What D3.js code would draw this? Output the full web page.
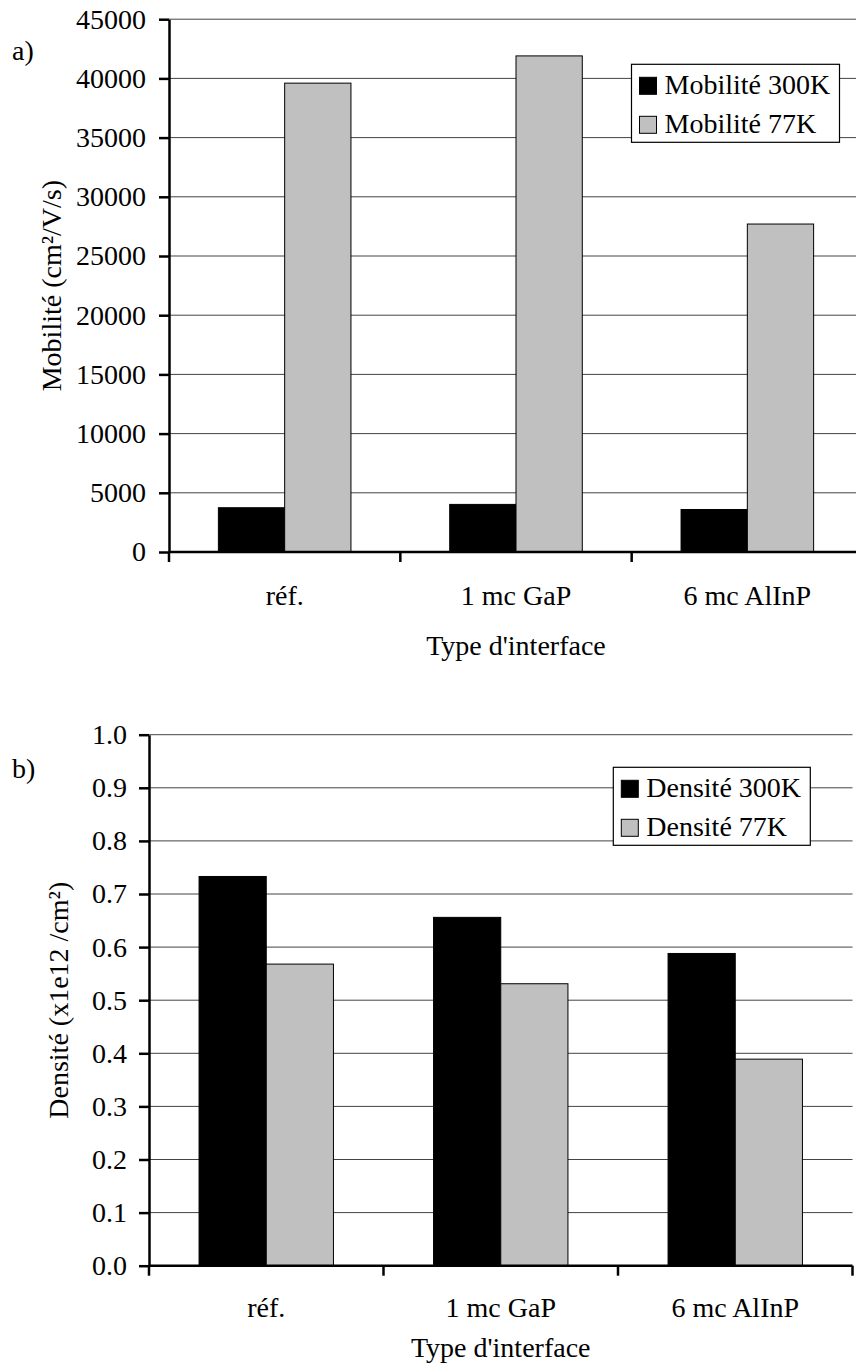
<!DOCTYPE html>
<html>
<head>
<meta charset="utf-8">
<script src="https://cdn.jsdelivr.net/npm/d3@7"></script>
<style>
  body { margin: 0; background: #fff; }
  svg text { font-family: "Liberation Serif", "Times New Roman", Times, "DejaVu Serif", serif; }
</style>
</head>
<body>
<div id="chart"></div>
<script>
// categories shared by both panels
var categories = ["réf.", "1 mc GaP", "6 mc AlInP"];

// panel a) mobility (cm²/V/s)
var mobiliteSeries = ["Mobilité 300K", "Mobilité 77K"];
var mobilite300K = [3740, 4020, 3590];
var mobilite77K = [39600, 41900, 27700];
var mobiliteTicks = [0, 5000, 10000, 15000, 20000, 25000, 30000, 35000, 40000, 45000];

// panel b) sheet density (x1e12 /cm²)
var densiteSeries = ["Densité 300K", "Densité 77K"];
var densite300K = [0.733, 0.656, 0.588];
var densite77K = [0.568, 0.531, 0.389];
var densiteTicks = [0, 0.1, 0.2, 0.3, 0.4, 0.5, 0.6, 0.7, 0.8, 0.9, 1.0];

var colors = ["#000000", "#c0c0c0"];
var W = 856, H = 1372;
var fontSize = 28;

var svg = d3.select("#chart").append("svg")
  .attr("width", W)
  .attr("height", H);

svg.append("rect").attr("width", W).attr("height", H).attr("fill", "#fff");

function drawPanel(o) {
  var g = svg.append("g");
  var max = o.ticks[o.ticks.length - 1];

  var y = d3.scaleLinear().domain([0, max]).range([o.bottom, o.top]);
  var x0 = d3.scaleBand().domain(categories).range([o.left, o.right]).padding(0);
  var x1 = d3.scaleBand().domain(o.series).range([0, x0.bandwidth()])
    .paddingInner(0).paddingOuter(0.745);

  // gridlines
  g.selectAll(".grid")
    .data(o.ticks.slice(1))
    .join("line")
    .attr("x1", o.left).attr("x2", o.right)
    .attr("y1", function (d) { return y(d); })
    .attr("y2", function (d) { return y(d); })
    .attr("stroke", "#444")
    .attr("stroke-width", 1);

  // bars
  var rows = categories.map(function (c, i) {
    return { cat: c, vals: [o.values[0][i], o.values[1][i]] };
  });
  g.selectAll(".grp")
    .data(rows)
    .join("g")
    .attr("transform", function (d) { return "translate(" + x0(d.cat) + ",0)"; })
    .selectAll("rect")
    .data(function (d) {
      return d.vals.map(function (v, j) { return { s: o.series[j], v: v, j: j }; });
    })
    .join("rect")
    .attr("x", function (d) { return x1(d.s); })
    .attr("width", x1.bandwidth())
    .attr("y", function (d) { return y(d.v); })
    .attr("height", function (d) { return o.bottom - y(d.v); })
    .attr("fill", function (d) { return colors[d.j]; })
    .attr("stroke", "#000")
    .attr("stroke-width", 1);

  // y axis
  var yAxis = g.append("g")
    .attr("transform", "translate(" + o.left + ",0)")
    .call(d3.axisLeft(y).tickValues(o.ticks).tickFormat(o.fmt)
      .tickSize(10).tickSizeOuter(0).tickPadding(o.tickPad));
  yAxis.attr("font-family", null);
  yAxis.select(".domain").attr("stroke", "#000").attr("stroke-width", 2.5);
  yAxis.selectAll(".tick line").attr("stroke", "#000").attr("stroke-width", 2.5);
  yAxis.selectAll(".tick text").attr("font-size", fontSize).attr("fill", "#000");

  // x axis line
  g.append("line")
    .attr("x1", o.left).attr("x2", o.right)
    .attr("y1", o.bottom).attr("y2", o.bottom)
    .attr("stroke", "#000").attr("stroke-width", 2.5);

  // boundary ticks between categories
  var bounds = categories.map(function (c) { return x0(c); }).concat([o.right]);
  g.selectAll(".xtick")
    .data(bounds)
    .join("line")
    .attr("x1", function (d) { return d; }).attr("x2", function (d) { return d; })
    .attr("y1", o.bottom).attr("y2", o.bottom + 10)
    .attr("stroke", "#000").attr("stroke-width", 2.5);

  // category labels
  g.selectAll(".xlab")
    .data(categories)
    .join("text")
    .attr("x", function (d) { return x0(d) + x0.bandwidth() / 2; })
    .attr("y", o.bottom + o.xLabOff)
    .attr("text-anchor", "middle")
    .attr("font-size", fontSize)
    .text(function (d) { return d; });

  // axis titles
  g.append("text")
    .attr("x", (o.left + o.right) / 2)
    .attr("y", o.bottom + o.xTitleOff)
    .attr("text-anchor", "middle")
    .attr("font-size", fontSize)
    .text("Type d'interface");

  g.append("text")
    .attr("transform", "translate(" + o.yTitleX + "," + (o.top + o.bottom) / 2 + ") rotate(-90)")
    .attr("text-anchor", "middle")
    .attr("font-size", fontSize)
    .text(o.yTitle);

  // panel letter
  g.append("text")
    .attr("x", 12).attr("y", o.letterY)
    .attr("font-size", fontSize)
    .text(o.letter);

  // legend
  var lg = g.append("g").attr("transform", "translate(" + o.legX + "," + o.legY + ")");
  lg.append("rect")
    .attr("width", o.legW).attr("height", 78)
    .attr("fill", "#fff").attr("stroke", "#000").attr("stroke-width", 1.2);
  var item = lg.selectAll(".item")
    .data(o.series)
    .join("g")
    .attr("transform", function (d, i) { return "translate(8," + (13 + i * 39) + ")"; });
  item.append("rect")
    .attr("width", 17).attr("height", 17)
    .attr("fill", function (d, i) { return colors[i]; })
    .attr("stroke", "#000").attr("stroke-width", 1);
  item.append("text")
    .attr("x", 25).attr("y", 17)
    .attr("font-size", fontSize)
    .text(function (d) { return d; });
}

drawPanel({
  letter: "a)", letterY: 60,
  series: mobiliteSeries,
  values: [mobilite300K, mobilite77K],
  ticks: mobiliteTicks,
  fmt: d3.format("d"),
  left: 169, right: 863, top: 19.2, bottom: 552,
  tickPad: 13,
  xLabOff: 53, xTitleOff: 103,
  yTitle: "Mobilité (cm²/V/s)", yTitleX: 61,
  legX: 631.5, legY: 64.3, legW: 208
});

drawPanel({
  letter: "b)", letterY: 778,
  series: densiteSeries,
  values: [densite300K, densite77K],
  ticks: densiteTicks,
  fmt: d3.format(".1f"),
  left: 149, right: 852.5, top: 734.7, bottom: 1265.7,
  tickPad: 12,
  xLabOff: 51.5, xTitleOff: 91,
  yTitle: "Densité (x1e12 /cm²)", yTitleX: 68,
  legX: 613.3, legY: 767.3, legW: 197
});
</script>
</body>
</html>
